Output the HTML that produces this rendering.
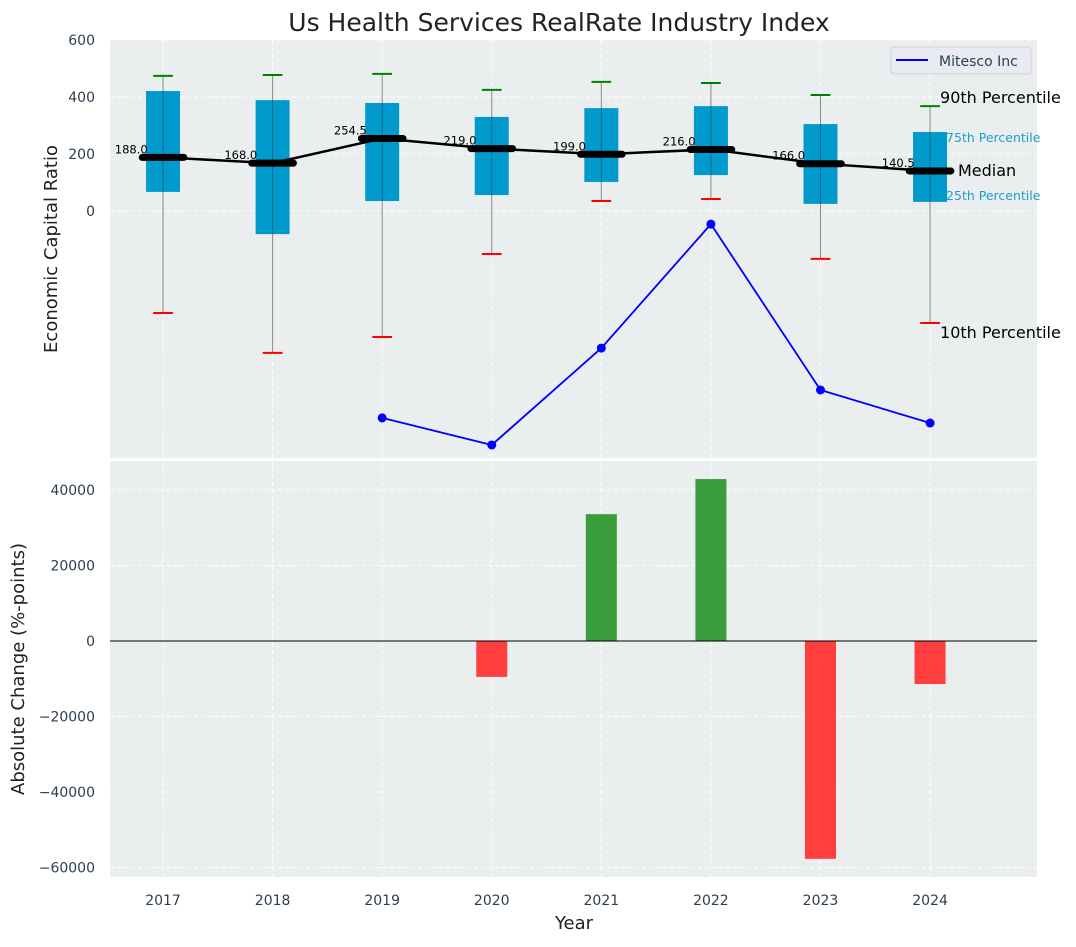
<!DOCTYPE html>
<html><head><meta charset="utf-8"><style>
body{margin:0;background:#fff;font-family:"Liberation Sans","DejaVu Sans",sans-serif}
svg text{font-family:"DejaVu Sans","Liberation Sans",sans-serif}
</style></head><body>
<svg id="c" width="1076" height="942" xmlns="http://www.w3.org/2000/svg"></svg>
<script>
const years=[2017,2018,2019,2020,2021,2022,2023,2024];
const p90=[474,477,481,425,453,449,407,368];
const p75=[421,389,379,330,361,368,305,277];
const medians=[188.0,168.0,254.5,219.0,199.0,216.0,166.0,140.5];
const p25=[67,-81,35,56,102,126,25,32];
const p10=[-358,-498,-442,-151,35,42,-168,-393];
const companyYears=[2019,2020,2021,2022,2023,2024];
const companyVals=[-726,-821,-481,-46,-628,-744];
const changeYears=[2020,2021,2022,2023,2024];
const changeVals=[-9500,33600,42900,-57700,-11400];
const topTicks=[0,200,400,600];
const botTicks=[-60000,-40000,-20000,0,20000,40000];

const NS="http://www.w3.org/2000/svg";const svg=document.getElementById('c');
function el(t,a,txt,name,parent){const e=document.createElementNS(NS,t);for(const k in a)e.setAttribute(k,a[k]);if(txt!=null)e.textContent=txt;


(parent||svg).appendChild(e);return e;}
const X0=110,X1=1037;const xs=v=>X0+(v-2016.516)/(2024.976-2016.516)*(X1-X0);
const T0=40,T1=458;const ty=v=>211-v*0.285;
const B0=461,B1=877;const by=v=>641-v*75.5/20000;
// backgrounds
el('rect',{x:X0,y:T0,width:X1-X0,height:T1-T0,fill:'#eaeeee'},null,'top-plot-area');
el('rect',{x:X0,y:B0,width:X1-X0,height:B1-B0,fill:'#eaeeee'},null,'bottom-plot-area');
// grids
years.forEach(y=>{
 el('line',{x1:xs(y),x2:xs(y),y1:T0,y2:T1,stroke:'#fff','stroke-dasharray':'4,3','stroke-width':1},null,'top-x-grid');
 el('line',{x1:xs(y),x2:xs(y),y1:B0,y2:B1,stroke:'#fff','stroke-dasharray':'4,3','stroke-width':1},null,'bottom-x-grid');
 el('text',{x:xs(y),y:905,'font-size':14,fill:'#2d3e50','text-anchor':'middle'},y,'x-tick-label');
});
topTicks.forEach(v=>{
 el('line',{x1:X0,x2:X1,y1:ty(v),y2:ty(v),stroke:'#fff','stroke-dasharray':'4,3'},null,'top-y-grid');
 el('text',{x:95,y:ty(v)+5,'font-size':14,fill:'#2d3e50','text-anchor':'end'},v,'top-y-tick-label');
});
botTicks.forEach(v=>{
 el('line',{x1:X0,x2:X1,y1:by(v),y2:by(v),stroke:'#fff','stroke-dasharray':'4,3'},null,'bottom-y-grid');
 el('text',{x:95,y:by(v)+5,'font-size':14,fill:'#2d3e50','text-anchor':'end'},v<0?'\u2212'+(-v):v,'bottom-y-tick-label');
});
// boxes
const pw=(X1-X0)/(2024.976-2016.516);
years.forEach((y,i)=>{
 const x=xs(y);
 el('line',{x1:x,x2:x,y1:ty(p90[i]),y2:ty(p10[i]),stroke:'#888','stroke-width':1},null,'whisker');
 el('rect',{x:x-0.155*pw,y:ty(p75[i]),width:0.31*pw,height:ty(p25[i])-ty(p75[i]),fill:'#009acd'},null,'iqr-box-'+y);
 el('line',{x1:x,x2:x,y1:ty(p75[i]),y2:ty(p25[i]),stroke:'#333','stroke-opacity':0.5,'stroke-width':1},null,'whisker-inner');
 el('line',{x1:x-0.09*pw,x2:x+0.09*pw,y1:ty(p90[i]),y2:ty(p90[i]),stroke:'green','stroke-width':2},null,'p90-cap');
 el('line',{x1:x-0.09*pw,x2:x+0.09*pw,y1:ty(p10[i]),y2:ty(p10[i]),stroke:'red','stroke-width':2},null,'p10-cap');
});
el('polyline',{points:years.map((y,i)=>xs(y)+','+ty(medians[i])).join(' '),fill:'none',stroke:'#000','stroke-width':2.5},null,'median-line');
years.forEach((y,i)=>{
 const x=xs(y);
 el('line',{x1:x-0.19*pw,x2:x+0.19*pw,y1:ty(medians[i]),y2:ty(medians[i]),stroke:'#000','stroke-width':7,'stroke-linecap':'round'},null,'median-marker');
 el('text',{x:x-0.14*pw,y:ty(medians[i])-4,'font-size':11.5,fill:'#000','text-anchor':'end'},medians[i].toFixed(1),'median-label');
});
el('polyline',{points:companyYears.map((y,i)=>xs(y)+','+ty(companyVals[i])).join(' '),fill:'none',stroke:'blue','stroke-width':1.8},null,'mitesco-line');
companyYears.forEach((y,i)=>el('circle',{cx:xs(y),cy:ty(companyVals[i]),r:4.5,fill:'blue'},null,'mitesco-point'));
// annotations
const lx=xs(2024)+10;
el('text',{x:lx,y:ty(p90[7])-3,'font-size':16,fill:'#000'},'90th Percentile','p90-annotation');
el('text',{x:lx+6,y:ty(p75[7])-135*0.285+66,'font-size':12,fill:'#1aa0cc'},'',''+'p75-dummy');
el('text',{x:lx+6,y:142,'font-size':12.5,fill:'#1aa0cc'},'75th Percentile','p75-annotation');
el('text',{x:lx+6,y:200,'font-size':12.5,fill:'#1aa0cc'},'25th Percentile','p25-annotation');
el('text',{x:958,y:176,'font-size':16,fill:'#000'},'Median','median-annotation');
el('text',{x:lx,y:338,'font-size':16,fill:'#000'},'10th Percentile','p10-annotation');
// legend
el('rect',{x:891,y:47,width:140,height:27,rx:3,fill:'#eaeaf2',stroke:'#d0d0d8'},null,'legend');
el('line',{x1:896,x2:928,y1:60,y2:60,stroke:'blue','stroke-width':2},null,'legend-line');
el('text',{x:939,y:66,'font-size':14,fill:'#2d3e50'},'Mitesco Inc','legend-label');
// bars
changeYears.forEach((y,i)=>{
 const v=changeVals[i];const top=Math.min(by(v),by(0));
 el('rect',{x:xs(y)-15.5,y:top,width:31,height:Math.abs(by(v)-by(0)),fill:v>=0?'#3b9d3b':'#ff3e3e'},null,'change-bar-'+y);
});
el('line',{x1:X0,x2:X1,y1:by(0),y2:by(0),stroke:'#000','stroke-width':1},null,'zero-line');
// titles
el('text',{x:559,y:31,'font-size':25,fill:'#222','text-anchor':'middle'},'Us Health Services RealRate Industry Index','chart-title');
el('text',{x:57,y:249,'font-size':18,fill:'#222','text-anchor':'middle',transform:'rotate(-90 57 249)'},'Economic Capital Ratio','top-y-axis-title');
el('text',{x:24,y:669,'font-size':18,fill:'#222','text-anchor':'middle',transform:'rotate(-90 24 669)'},'Absolute Change (%-points)','bottom-y-axis-title');
el('text',{x:574,y:929,'font-size':18,fill:'#222','text-anchor':'middle'},'Year','x-axis-title');
</script>
</body></html>
